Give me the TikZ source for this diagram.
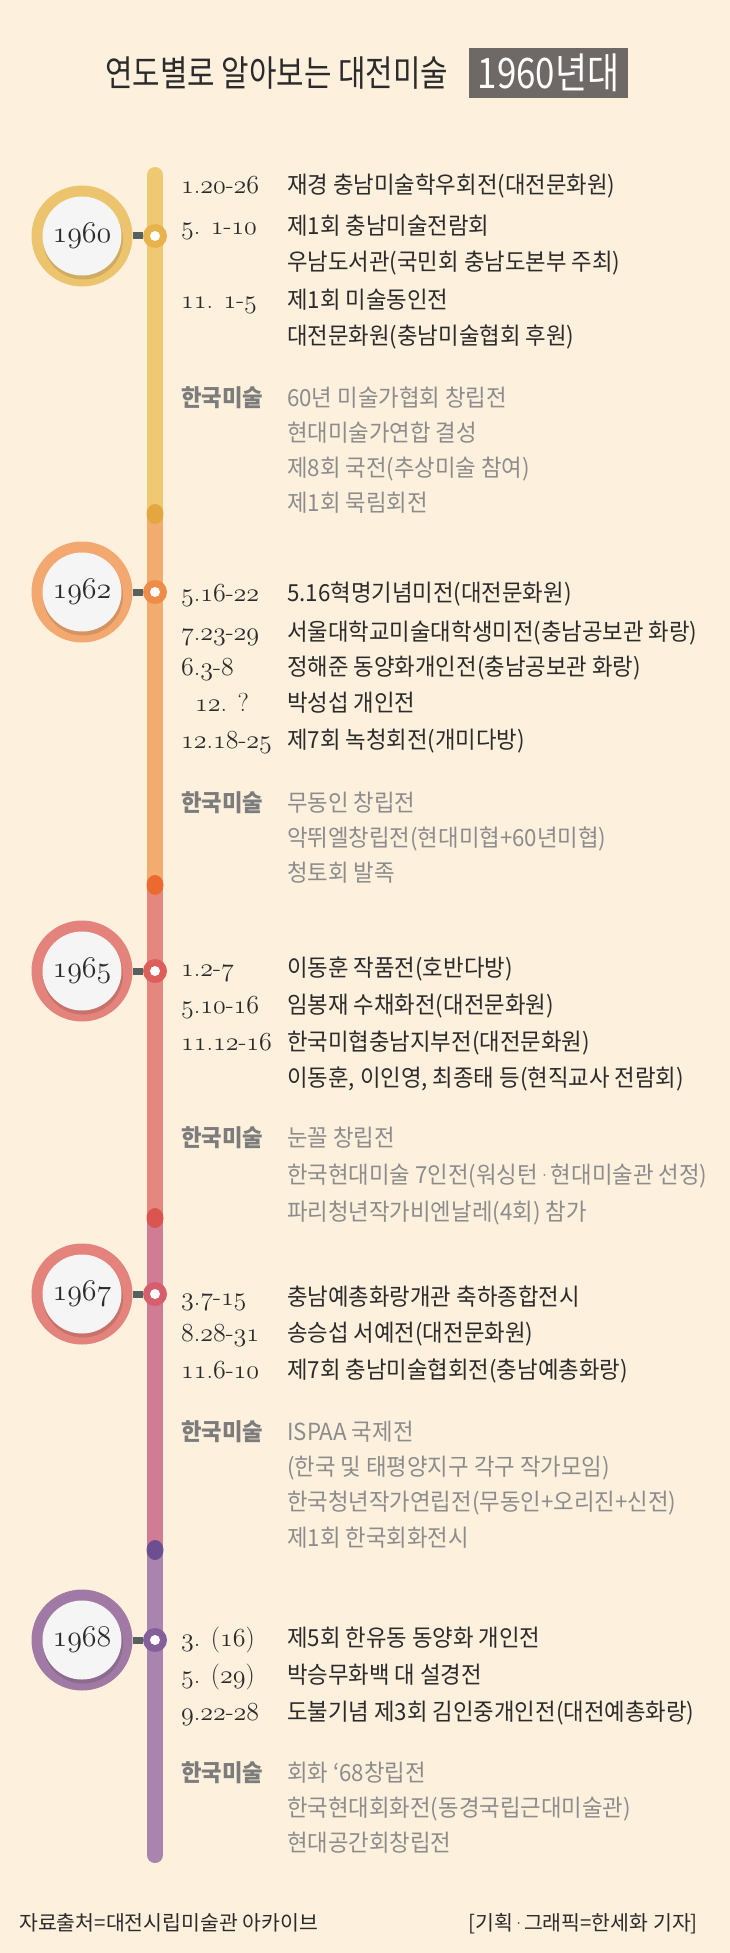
\documentclass[tikz,border=0pt]{standalone}
\usepackage{fontspec}
\newfontfamily\krb[FakeStretch=0.95]{Noto Sans CJK KR}
\newfontfamily\krf{Noto Sans CJK KR}
\newfontfamily\krt[FakeStretch=0.83]{Noto Sans CJK KR}
\newfontfamily\lmr{Latin Modern Roman}
\newcommand\md{{\kern-2pt\lmr ·\kern-2pt}}
\DeclareFontFamily{OML}{myos}{}
\DeclareFontShape{OML}{myos}{m}{it}{<-> cmmi12}{}
\newcommand\osn[1]{{\usefont{OML}{myos}{m}{it}#1}}
\definecolor{bg}{HTML}{FDF1DE}
\definecolor{txt}{HTML}{2B2B2B}
\definecolor{lab}{HTML}{7C7C7C}
\definecolor{itm}{HTML}{8C8C8C}
\definecolor{boxc}{HTML}{6E6867}
\definecolor{barc}{HTML}{56605F}
\definecolor{sA}{HTML}{EFC872}
\definecolor{sB}{HTML}{F3AC70}
\definecolor{sC}{HTML}{E5877F}
\definecolor{sD}{HTML}{D07C94}
\definecolor{sE}{HTML}{A984AE}
\definecolor{dA}{HTML}{E4A63F}
\definecolor{dB}{HTML}{EC6A2E}
\definecolor{dC}{HTML}{DA5550}
\definecolor{dD}{HTML}{6D4E90}
\definecolor{cA}{HTML}{EDC46E}
\definecolor{cB}{HTML}{F2A86F}
\definecolor{cC}{HTML}{E4827C}
\definecolor{cD}{HTML}{E4827C}
\definecolor{cE}{HTML}{A07AA4}
\definecolor{kA}{HTML}{E9B24C}
\definecolor{kB}{HTML}{EF8C4A}
\definecolor{kC}{HTML}{DD5F5C}
\definecolor{kD}{HTML}{D65F6E}
\definecolor{kE}{HTML}{84609A}
\definecolor{innerc}{HTML}{F5F5F6}
\tikzset{
 dt/.style={anchor=base west, inner sep=0, text=txt, font=\fontsize{26}{26}\selectfont},
 ev/.style={anchor=base west, inner sep=0, text=txt, font=\krb\fontsize{23.5}{23.5}\selectfont},
 kl/.style={anchor=base west, inner sep=0, text=lab, font=\krb\bfseries\fontsize{23.5}{23.5}\selectfont},
 ki/.style={anchor=base west, inner sep=0, text=itm, font=\krb\fontsize{23.5}{23.5}\selectfont},
 yr/.style={circle, minimum size=101pt, inner sep=0},
 yin/.style={circle, fill=innerc, minimum size=79pt, inner sep=0, text=txt, font=\fontsize{30}{30}\selectfont},
 knot/.style={circle, minimum size=24pt, inner sep=0},
 hole/.style={circle, fill=white, minimum size=10pt, inner sep=0},
 seg/.style={line width=16pt},
 link/.style={line width=7pt, barc},
 foot/.style={inner sep=0, text=txt, font=\krf\fontsize{20.5}{20.5}\selectfont}
}
\begin{document}
\begin{tikzpicture}[x=1pt,y=-1pt]
\fill[bg] (0,0) rectangle (730,1953);
\useasboundingbox (0,0) rectangle (730,1953);
% title
\node[anchor=base west, inner sep=0, text=txt, font=\krt\fontsize{36}{36}\selectfont] (title) at (105,86.5) {연도별로 알아보는 대전미술};
\node[fill=boxc, minimum width=159pt, minimum height=50pt, inner sep=0, text=white, font=\krt\fontsize{42}{42}\selectfont] (dec) at (548.5,73) {1960년대};
% timeline
\coordinate (L0) at (155,175);
\coordinate (L1) at (155,514);
\coordinate (L2) at (155,885);
\coordinate (L3) at (155,1218);
\coordinate (L4) at (155,1550);
\coordinate (L5) at (155,1855);
\draw[seg, line cap=round, sA] (L0) -- (L1);
\draw[seg, sB] (L1) -- (L2);
\draw[seg, sC] (L2) -- (L3);
\draw[seg, sD] (L3) -- (L4);
\draw[seg, line cap=round, sE] (L4) -- (L5);
\fill[dA] (L1) ellipse (8.5pt and 10pt);
\fill[dB] (L2) ellipse (8.5pt and 10pt);
\fill[dC] (L3) ellipse (8.5pt and 10pt);
\fill[dD] (L4) ellipse (8.5pt and 10pt);
% year circles
\node[yr, fill=cA] (y60) at (82,236) {};
\fill[black, opacity=.12] (83,239.5) circle (40pt);
\node[yin] (y60in) at (82,236) {\osn{1960}};
\node[knot, fill=kA] (k60) at (155,236) {};
\node[hole] (h60) at (k60) {};
\draw[link] (y60) -- (k60);

\node[yr, fill=cB] (y62) at (82,592) {};
\fill[black, opacity=.12] (83,595.5) circle (40pt);
\node[yin] (y62in) at (82,592) {\osn{1962}};
\node[knot, fill=kB] (k62) at (155,592) {};
\node[hole] (h62) at (k62) {};
\draw[link] (y62) -- (k62);

\node[yr, fill=cC] (y65) at (82,971) {};
\fill[black, opacity=.12] (83,974.5) circle (40pt);
\node[yin] (y65in) at (82,971) {\osn{1965}};
\node[knot, fill=kC] (k65) at (155,971) {};
\node[hole] (h65) at (k65) {};
\draw[link] (y65) -- (k65);

\node[yr, fill=cD] (y67) at (82,1294) {};
\fill[black, opacity=.12] (83,1297.5) circle (40pt);
\node[yin] (y67in) at (82,1294) {\osn{1967}};
\node[knot, fill=kD] (k67) at (155,1294) {};
\node[hole] (h67) at (k67) {};
\draw[link] (y67) -- (k67);

\node[yr, fill=cE] (y68) at (82,1640) {};
\fill[black, opacity=.12] (83,1643.5) circle (40pt);
\node[yin] (y68in) at (82,1640) {\osn{1968}};
\node[knot, fill=kE] (k68) at (155,1640) {};
\node[hole] (h68) at (k68) {};
\draw[link] (y68) -- (k68);

% 1960
\node[dt] (a1d) at (181,194) {\osn{1}.\osn{20}-\osn{26}};
\node[ev] (a1t) at (287,194) {재경 충남미술학우회전(대전문화원)};
\node[dt] (a2d) at (181,235) {\osn{5}. \osn{1}-\osn{10}};
\node[ev] (a2t) at (287,235) {제1회 충남미술전람회};
\node[ev] (a3t) at (287,270) {우남도서관(국민회 충남도본부 주최)};
\node[dt] (a4d) at (181,308) {\osn{11}. \osn{1}-\osn{5}};
\node[ev] (a4t) at (287,308) {제1회 미술동인전};
\node[ev] (a5t) at (287,344) {대전문화원(충남미술협회 후원)};
\node[kl] (a6l) at (181,406) {한국미술};
\node[ki] (a6t) at (287,406) {60년 미술가협회 창립전};
\node[ki] (a7t) at (287,441) {현대미술가연합 결성};
\node[ki] (a8t) at (287,476) {제8회 국전(추상미술 참여)};
\node[ki] (a9t) at (287,511) {제1회 묵림회전};
% 1962
\node[dt] (b1d) at (181,601) {\osn{5}.\osn{16}-\osn{22}};
\node[ev] (b1t) at (287,601) {5.16혁명기념미전(대전문화원)};
\node[dt] (b2d) at (181,640) {\osn{7}.\osn{23}-\osn{29}};
\node[ev] (b2t) at (287,640) {서울대학교미술대학생미전(충남공보관 화랑)};
\node[dt] (b3d) at (181,675) {\osn{6}.\osn{3}-\osn{8}};
\node[ev] (b3t) at (287,675) {정해준 동양화개인전(충남공보관 화랑)};
\node[dt] (b4d) at (195,711) {\osn{12}. ?};
\node[ev] (b4t) at (287,711) {박성섭 개인전};
\node[dt] (b5d) at (181,748) {\osn{12}.\osn{18}-\osn{25}};
\node[ev] (b5t) at (287,748) {제7회 녹청회전(개미다방)};
\node[kl] (b6l) at (181,811) {한국미술};
\node[ki] (b6t) at (287,811) {무동인 창립전};
\node[ki] (b7t) at (287,846) {악뛰엘창립전(현대미협+60년미협)};
\node[ki] (b8t) at (287,881) {청토회 발족};
% 1965
\node[dt] (c1d) at (181,976) {\osn{1}.\osn{2}-\osn{7}};
\node[ev] (c1t) at (287,976) {이동훈 작품전(호반다방)};
\node[dt] (c2d) at (181,1013) {\osn{5}.\osn{10}-\osn{16}};
\node[ev] (c2t) at (287,1013) {임봉재 수채화전(대전문화원)};
\node[dt] (c3d) at (181,1050) {\osn{11}.\osn{12}-\osn{16}};
\node[ev] (c3t) at (287,1050) {한국미협충남지부전(대전문화원)};
\node[ev] (c4t) at (287,1086) {이동훈, 이인영, 최종태 등(현직교사 전람회)};
\node[kl] (c5l) at (181,1146) {한국미술};
\node[ki] (c5t) at (287,1146) {눈꼴 창립전};
\node[ki] (c6t) at (287,1183) {한국현대미술 7인전(워싱턴\md 현대미술관 선정)};
\node[ki] (c7t) at (287,1220) {파리청년작가비엔날레(4회) 참가};
% 1967
\node[dt] (d1d) at (181,1305) {\osn{3}.\osn{7}-\osn{15}};
\node[ev] (d1t) at (287,1305) {충남예총화랑개관 축하종합전시};
\node[dt] (d2d) at (181,1341) {\osn{8}.\osn{28}-\osn{31}};
\node[ev] (d2t) at (287,1341) {송승섭 서예전(대전문화원)};
\node[dt] (d3d) at (181,1378) {\osn{11}.\osn{6}-\osn{10}};
\node[ev] (d3t) at (287,1378) {제7회 충남미술협회전(충남예총화랑)};
\node[kl] (d4l) at (181,1440) {한국미술};
\node[ki] (d4t) at (287,1440) {ISPAA 국제전};
\node[ki] (d5t) at (287,1475) {(한국 및 태평양지구 각구 작가모임)};
\node[ki] (d6t) at (287,1510) {한국청년작가연립전(무동인+오리진+신전)};
\node[ki] (d7t) at (287,1546) {제1회 한국회화전시};
% 1968
\node[dt] (e1d) at (181,1646) {\osn{3}. (\osn{16})};
\node[ev] (e1t) at (287,1646) {제5회 한유동 동양화 개인전};
\node[dt] (e2d) at (181,1683) {\osn{5}. (\osn{29})};
\node[ev] (e2t) at (287,1683) {박승무화백 대 설경전};
\node[dt] (e3d) at (181,1720) {\osn{9}.\osn{22}-\osn{28}};
\node[ev] (e3t) at (287,1720) {도불기념 제3회 김인중개인전(대전예총화랑)};
\node[kl] (e4l) at (181,1781) {한국미술};
\node[ki] (e4t) at (287,1781) {회화 ‘68창립전};
\node[ki] (e5t) at (287,1816) {한국현대회화전(동경국립근대미술관)};
\node[ki] (e6t) at (287,1851) {현대공간회창립전};
% footer
\node[foot, anchor=base west] (src) at (19,1930) {자료출처=대전시립미술관 아카이브};
\node[foot, anchor=base east] (cred) at (698,1930) {[기획\md 그래픽=한세화 기자]};
\end{tikzpicture}
\end{document}
